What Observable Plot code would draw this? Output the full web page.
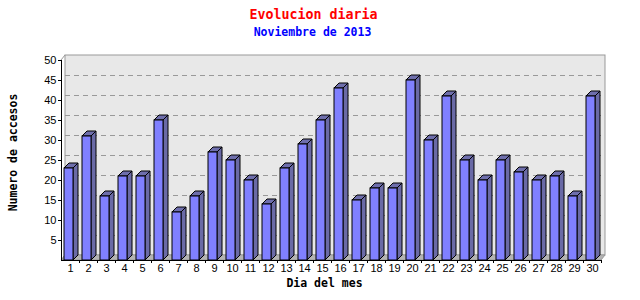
<!DOCTYPE html>
<html>
<head>
<meta charset="utf-8">
<script src="https://cdn.jsdelivr.net/npm/d3@7"></script>
<script src="https://cdn.jsdelivr.net/npm/@observablehq/plot@0.6"></script>
<style>
  body { margin: 0; background: #fff; }
  #chart svg { display: block; }
</style>
</head>
<body>
<div id="chart"></div>
<script>
// ---- Data ----
const days = [1, 2, 3, 4, 5, 6, 7, 8, 9, 10, 11, 12, 13, 14, 15, 16, 17, 18, 19, 20, 21, 22, 23, 24, 25, 26, 27, 28, 29, 30];
const accesos = [23, 31, 16, 21, 21, 35, 12, 16, 27, 25, 20, 14, 23, 29, 35, 43, 15, 18, 18, 45, 30, 41, 25, 20, 25, 22, 20, 21, 16, 41];
const yTicks = [5, 10, 15, 20, 25, 30, 35, 40, 45, 50];
const gridValues = [5, 10, 15, 20, 25, 30, 35, 40, 45];
const yDomain = [0, 50];
const title = "Evolucion diaria";
const subtitle = "Noviembre de 2013";
const xLabel = "Dia del mes";
const yLabel = "Numero de accesos";

const data = days.map((d, i) => ({day: d, value: accesos[i]}));

const mono = "'DejaVu Sans Mono', 'Liberation Mono', monospace";
const DEPTH = 5;      // 3D depth of bars
const WALL_DX = 4;    // back wall horizontal offset
const WALL_DY = 5;    // back wall vertical offset

// Back wall + floor of the 3D plot box
function wallMark(index, scales, values, dim) {
  const {width, height, marginLeft, marginRight, marginTop, marginBottom} = dim;
  const l = marginLeft, r = width - marginRight, t = marginTop, b = height - marginBottom;
  const g = d3.create("svg:g");
  g.append("rect")
    .attr("x", l + WALL_DX).attr("y", t - WALL_DY)
    .attr("width", r - l).attr("height", b - t)
    .attr("fill", "#e8e8e8").attr("stroke", "#999");
  g.append("path")
    .attr("d", `M${l},${b}L${l + WALL_DX},${b - WALL_DY}L${r + WALL_DX},${b - WALL_DY}L${r},${b}Z`)
    .attr("fill", "#b4b4b4").attr("stroke", "#999");
  g.append("line")
    .attr("x1", l).attr("y1", t).attr("x2", l + WALL_DX).attr("y2", t - WALL_DY)
    .attr("stroke", "#999");
  return g.node();
}

// Side and top faces of each 3D bar, positioned through Plot's scales
function facesMark(index, scales) {
  const x = scales.x, y = scales.y;
  const bw = x.bandwidth();
  const g = d3.create("svg:g").attr("stroke", "black").attr("stroke-linejoin", "miter");
  data.forEach(d => {
    const x1 = x(d.day) + 3, x2 = x(d.day) + bw - 6;
    const y0 = y(0), yv = y(d.value);
    g.append("path")
      .attr("d", `M${x2},${y0}L${x2 + DEPTH},${y0 - DEPTH}L${x2 + DEPTH},${yv - DEPTH}L${x2},${yv}Z`)
      .attr("fill", "#6a6aa6");
    g.append("path")
      .attr("d", `M${x1},${yv}L${x1 + DEPTH},${yv - DEPTH}L${x2 + DEPTH},${yv - DEPTH}L${x2},${yv}Z`)
      .attr("fill", "#6e6eac");
  });
  return g.node();
}

const chart = Plot.plot({
  width: 640,
  height: 300,
  marginLeft: 61,
  marginRight: 39,
  marginTop: 60,
  marginBottom: 40,
  style: {background: "white", fontFamily: "'Liberation Sans', Arial, sans-serif", fontSize: "11px", color: "black", overflow: "visible"},
  x: {type: "band", domain: days, paddingInner: 0, paddingOuter: 0},
  y: {domain: yDomain},
  marks: [
    wallMark,
    Plot.ruleY(gridValues, {y: d => d, dx: WALL_DX, dy: -WALL_DY, stroke: "#999", strokeDasharray: "5,4"}),
    facesMark,
    Plot.barY(data, {x: "day", y: "value", fill: "#8080ff", stroke: "black", insetLeft: 3, insetRight: 6}),
    Plot.ruleX([days[0]], {x: d => d, dx: -9, y1: 0, y2: 50, stroke: "black"}),
    Plot.ruleY([0], {stroke: "black"}),
    Plot.axisY({ticks: yTicks, tickSize: 3, tickPadding: 2, tickFormat: d => d, label: null, fill: "black", stroke: "black"}),
    Plot.axisX({tickSize: 3, tickFormat: () => "", label: null, dx: 9, stroke: "black"}),
    Plot.axisX({tickSize: 0, tickPadding: 4, label: null, fill: "black"}),
    Plot.text([yLabel], {frameAnchor: "left", textAnchor: "middle", lineAnchor: "middle", dx: -48, dy: -8, rotate: -90, fontFamily: mono, fontWeight: "bold", fontSize: 11.5, fill: "black"}),
    Plot.text([xLabel], {frameAnchor: "bottom", textAnchor: "middle", lineAnchor: "middle", dx: -7, dy: 23, fontFamily: mono, fontWeight: "bold", fontSize: 11.5, fill: "black"}),
    Plot.text([title], {frameAnchor: "top", textAnchor: "middle", lineAnchor: "middle", dx: -18, dy: -46, fontFamily: mono, fontWeight: "bold", fontSize: 13.3, fill: "#ff0000"}),
    Plot.text([subtitle], {frameAnchor: "top", textAnchor: "middle", lineAnchor: "middle", dx: -19, dy: -28, fontFamily: mono, fontWeight: "bold", fontSize: 11.5, fill: "#0000ff"})
  ]
});

document.getElementById("chart").append(chart);
</script>
</body>
</html>
